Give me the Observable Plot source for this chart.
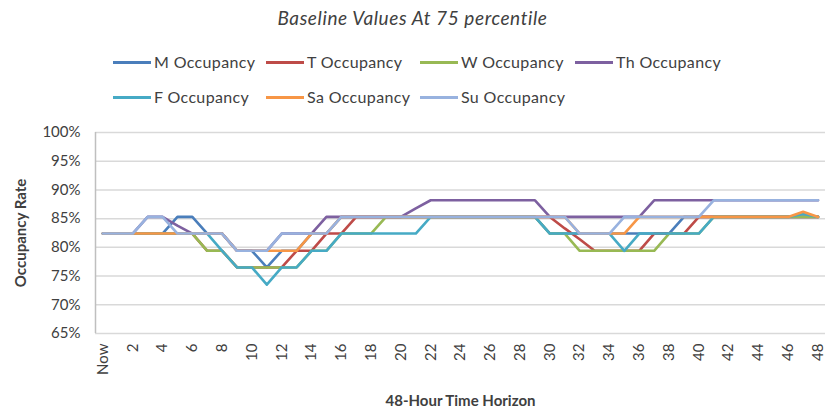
<!DOCTYPE html>
<html><head><meta charset="utf-8">
<script src="https://cdn.jsdelivr.net/npm/d3@7"></script>
<script src="https://cdn.jsdelivr.net/npm/@observablehq/plot@0.6"></script>
<style>
body{margin:0;background:#fff;font-family:Lato,"Open Sans",sans-serif;}
#wrap{position:relative;width:825px;height:414px;overflow:hidden;background:#fff;}
#title{position:absolute;left:0;width:825px;top:6px;text-align:center;font-style:italic;font-size:19px;letter-spacing:0.6px;color:#404040;}
.leg{position:absolute;font-size:16px;letter-spacing:0.35px;color:#404040;display:flex;align-items:center;white-space:nowrap;line-height:18px;}
.sw{display:inline-block;width:38px;height:3px;margin-right:3px;}
#chart{position:absolute;left:0;top:115px;}
g[aria-label="x-axis label"] text, g[aria-label="y-axis label"] text{font-weight:bold;}
</style></head>
<body><div id="wrap"><div id="title">Baseline Values At 75 percentile</div><div id="legend"></div><div id="chart"></div></div>
<script>
const hours = [0,1,2,3,4,5,6,7,8,9,10,11,12,13,14,15,16,17,18,19,20,21,22,23,24,25,26,27,28,29,30,31,32,33,34,35,36,37,38,39,40,41,42,43,44,45,46,47,48];
const xTicks = [0,2,4,6,8,10,12,14,16,18,20,22,24,26,28,30,32,34,36,38,40,42,44,46,48];
const xTickLabels = ["Now","2","4","6","8","10","12","14","16","18","20","22","24","26","28","30","32","34","36","38","40","42","44","46","48"];
const yTicks = [65,70,75,80,85,90,95,100];
const seriesNames = ["M Occupancy","T Occupancy","W Occupancy","Th Occupancy","F Occupancy","Sa Occupancy","Su Occupancy"];
const seriesColors = ["#4A7EBB","#BE4B48","#98B954","#7D60A0","#46AAC5","#F79646","#98B2DF"];

const M  = [82.4,82.4,82.4,82.4,82.4,85.3,85.3,82.4,82.4,79.4,79.4,76.5,79.4,79.4,82.4,82.4,85.3,85.3,85.3,85.3,85.3,85.3,85.3,85.3,85.3,85.3,85.3,85.3,85.3,85.3,82.4,82.4,82.4,82.4,82.4,82.4,82.4,82.4,82.4,85.3,85.3,85.3,85.3,85.3,85.3,85.3,85.3,85.3,85.3];
const T  = [82.4,82.4,82.4,82.4,82.4,82.4,82.4,79.4,79.4,76.5,76.5,76.5,76.5,79.4,79.4,82.4,82.4,85.3,85.3,85.3,85.3,85.3,85.3,85.3,85.3,85.3,85.3,85.3,85.3,85.3,85.3,83.3,81.4,79.4,79.4,79.4,79.4,82.4,82.4,82.4,85.3,85.3,85.3,85.3,85.3,85.3,85.3,85.3,85.3];
const W  = [82.4,82.4,82.4,82.4,82.4,82.4,82.4,79.4,79.4,76.5,76.5,76.5,76.5,76.5,79.4,79.4,82.4,82.4,82.4,85.3,85.3,85.3,85.3,85.3,85.3,85.3,85.3,85.3,85.3,85.3,82.4,82.4,79.4,79.4,79.4,79.4,79.4,79.4,82.4,82.4,82.4,85.3,85.3,85.3,85.3,85.3,85.3,85.3,85.3];
const Th = [82.4,82.4,82.4,85.3,85.3,83.8,82.4,82.4,82.4,79.4,79.4,79.4,82.4,82.4,82.4,85.3,85.3,85.3,85.3,85.3,85.3,86.8,88.2,88.2,88.2,88.2,88.2,88.2,88.2,88.2,85.3,85.3,85.3,85.3,85.3,85.3,85.3,88.2,88.2,88.2,88.2,88.2,88.2,88.2,88.2,88.2,88.2,88.2,88.2];
const F  = [82.4,82.4,82.4,82.4,82.4,82.4,82.4,82.4,79.4,76.5,76.5,73.5,76.5,76.5,79.4,79.4,82.4,82.4,82.4,82.4,82.4,82.4,85.3,85.3,85.3,85.3,85.3,85.3,85.3,85.3,82.4,82.4,82.4,82.4,82.4,79.4,82.4,82.4,82.4,82.4,82.4,85.3,85.3,85.3,85.3,85.3,85.3,85.8,85.3];
const Sa = [82.4,82.4,82.4,82.4,82.4,82.4,82.4,82.4,82.4,79.4,79.4,79.4,79.4,79.4,82.4,82.4,85.3,85.3,85.3,85.3,85.3,85.3,85.3,85.3,85.3,85.3,85.3,85.3,85.3,85.3,85.3,85.3,82.4,82.4,82.4,82.4,85.3,85.3,85.3,85.3,85.3,85.3,85.3,85.3,85.3,85.3,85.3,86.2,85.3];
const Su = [82.4,82.4,82.4,85.3,85.3,82.4,82.4,82.4,82.4,79.4,79.4,79.4,82.4,82.4,82.4,82.4,85.3,85.3,85.3,85.3,85.3,85.3,85.3,85.3,85.3,85.3,85.3,85.3,85.3,85.3,85.3,85.3,82.4,82.4,82.4,85.3,85.3,85.3,85.3,85.3,85.3,88.2,88.2,88.2,88.2,88.2,88.2,88.2,88.2];

const allSeries = [M,T,W,Th,F,Sa,Su];

// legend
const legPos = [[113,53],[266,53],[420,53],[575,53],[113,88],[266,88],[420,88]];
const legend = document.getElementById("legend");
seriesNames.forEach((n,i)=>{
  const d = document.createElement("div");
  d.className = "leg";
  d.style.left = legPos[i][0]+"px"; d.style.top = legPos[i][1]+"px";
  const s = document.createElement("span"); s.className="sw"; s.style.background = seriesColors[i];
  d.appendChild(s);
  d.appendChild(document.createTextNode(n));
  legend.appendChild(d);
});

const lineMarks = allSeries.map((vals,i)=>Plot.line(hours,{x:d=>d, y:(d,j)=>vals[j], stroke:seriesColors[i], strokeWidth:2.6, strokeLinejoin:"round"}));

const plot = Plot.plot({
  width:825, height:299,
  marginLeft:95, marginRight:0, marginTop:17, marginBottom:81,
  x:{domain:[-0.5,48.5]},
  y:{domain:[65,100]},
  style:{fontFamily:"Lato, 'Open Sans', sans-serif", fontSize:"15px", color:"#404040", background:"white", overflow:"visible"},
  marks:[
    Plot.ruleY(yTicks,{stroke:"#d9d9d9", strokeWidth:1.5}),
    Plot.ruleX([-0.5],{y1:65, y2:100, stroke:"#bfbfbf", strokeWidth:1.5}),
    Plot.axisY({ticks:yTicks, tickFormat:d=>d+"%", tickSize:0, tickPadding:15, label:"Occupancy Rate", labelArrow:false, labelAnchor:"center", labelOffset:80}),
    Plot.axisX({ticks:xTicks, tickFormat:(d)=>xTickLabels[xTicks.indexOf(d)], tickRotate:-90, tickSize:0, tickPadding:10, label:"48-Hour Time Horizon", labelArrow:false, labelAnchor:"center", labelOffset:72}),
    ...lineMarks
  ]
});
document.getElementById("chart").appendChild(plot);
</script>
</body></html>
